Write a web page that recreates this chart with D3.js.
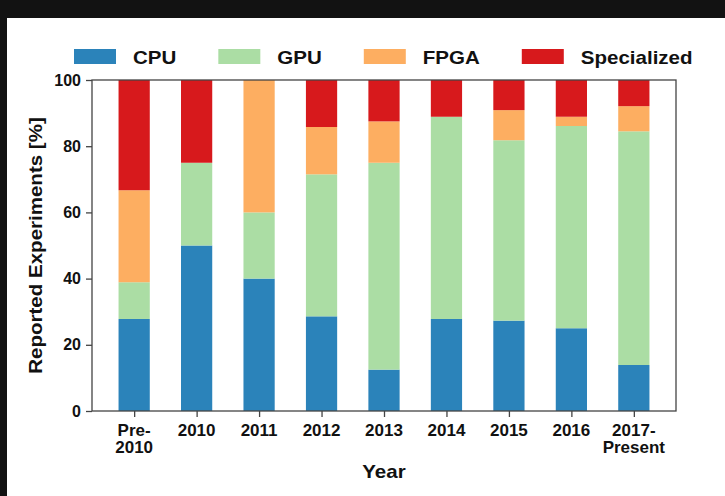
<!DOCTYPE html>
<html>
<head>
<meta charset="utf-8">
<script src="https://cdn.jsdelivr.net/npm/d3@7"></script>
<style>
  body { margin: 0; background: #fff; }
  svg text { font-family: "Liberation Sans", Arial, sans-serif; font-weight: bold; fill: #111; }
</style>
</head>
<body>
<svg id="chart" width="725" height="496"></svg>
<script>
// Share of reported experiments per hardware type, by year

var years = ["Pre-\n2010", "2010", "2011", "2012", "2013", "2014", "2015", "2016", "2017-\nPresent"];
var hardware = ["CPU", "GPU", "FPGA", "Specialized"];
var colors = ["#2b83ba", "#abdda4", "#fdae61", "#d7191c"];

var cpu         = [27.8, 50.0, 40.0, 28.6, 12.5, 27.8, 27.3, 25.0, 13.9];
var gpu         = [11.1, 25.0, 20.0, 42.9, 62.5, 61.1, 54.5, 61.1, 70.6];
var fpga        = [27.8,  0.0, 40.0, 14.3, 12.5,  0.0,  9.1,  2.8,  7.6];
var specialized = [33.3, 25.0,  0.0, 14.2, 12.5, 11.1,  9.1, 11.1,  7.9];

var yTicks = [0, 20, 40, 60, 80, 100];

var rows = years.map(function (y, i) {
  return { year: y, CPU: cpu[i], GPU: gpu[i], FPGA: fpga[i], Specialized: specialized[i] };
});

var svg = d3.select("#chart");

// screenshot frame (dark border on top and left)
svg.append("rect").attr("x", 0).attr("y", 0).attr("width", 725).attr("height", 18).attr("fill", "#121212");
svg.append("rect").attr("x", 0).attr("y", 0).attr("width", 7).attr("height", 496).attr("fill", "#121212");

var pLeft = 92, pRight = 676, pTop = 80, pBottom = 411;
var STRETCH = 1.14; // the source font runs a bit wider than Liberation Sans

// text drawn slightly stretched horizontally
var wideText = function (x, y, str, size, anchor, rotate) {
  return svg.append("text")
    .attr("transform", "translate(" + x + "," + y + ")" + (rotate ? " rotate(-90)" : "") + " scale(" + STRETCH + ",1)")
    .attr("text-anchor", anchor || "start")
    .attr("font-size", size)
    .text(str);
};

// matplotlib-like: bars of width 0.5 at integer positions, 5% margins
var x = d3.scaleLinear().domain([-0.675, years.length - 1 + 0.675]).range([pLeft, pRight]);
var y = d3.scaleLinear().domain([0, 100]).range([pBottom, pTop]);
var barW = x(0.5) - x(0);

var series = d3.stack().keys(hardware)(rows);

svg.append("g").selectAll("g")
  .data(series)
  .enter().append("g")
  .attr("fill", function (d, i) { return colors[i]; })
  .selectAll("rect")
  .data(function (d) { return d; })
  .enter().append("rect")
  .attr("x", function (d, i) { return x(i) - barW / 2; })
  .attr("y", function (d) { return y(Math.min(d[1], 100)); })
  .attr("width", barW)
  .attr("height", function (d) { return Math.max(0, y(d[0]) - y(Math.min(d[1], 100))); });

// frame
svg.append("rect")
  .attr("x", pLeft).attr("y", pTop)
  .attr("width", pRight - pLeft).attr("height", pBottom - pTop)
  .attr("fill", "none").attr("stroke", "#444").attr("stroke-width", 1.3);

// y axis
var yAxis = svg.append("g")
  .attr("transform", "translate(" + pLeft + ",0)")
  .call(d3.axisLeft(y).tickValues(yTicks).tickSize(6).tickPadding(5));
yAxis.select(".domain").remove();
yAxis.selectAll("line").attr("stroke", "#444").attr("stroke-width", 1.3);
yAxis.selectAll("text").attr("font-size", 16).attr("fill", "#222")
  .style("font-family", "'Liberation Sans', Arial, sans-serif").style("font-weight", "bold");

// x axis
var xAxis = svg.append("g")
  .attr("transform", "translate(0," + pBottom + ")")
  .call(d3.axisBottom(x).tickValues(d3.range(years.length)).tickSize(6).tickFormat(""));
xAxis.select(".domain").remove();
xAxis.selectAll("line").attr("stroke", "#444").attr("stroke-width", 1.3);

// two-line labels: one text per line
var xLabels = svg.append("g");
years.forEach(function (yr, i) {
  yr.split("\n").forEach(function (line, k) {
    xLabels.append("text")
      .attr("x", x(i))
      .attr("y", 436 + k * 17)
      .attr("text-anchor", "middle")
      .attr("font-size", 17)
      .attr("fill", "#222")
      .text(line);
  });
});

// axis titles
wideText((pLeft + pRight) / 2, 478, "Year", 18, "middle");
wideText(42, (pTop + pBottom) / 2, "Reported Experiments [%]", 18, "middle", true);

// legend
var lx = 74;
hardware.forEach(function (h, i) {
  svg.append("rect")
    .attr("x", lx).attr("y", 49)
    .attr("width", 42).attr("height", 15)
    .attr("fill", colors[i]);
  var t = wideText(lx + 59, 64, h, 18, "start");
  lx = lx + 59 + t.node().getComputedTextLength() * STRETCH + 42;
});
</script>
</body>
</html>
